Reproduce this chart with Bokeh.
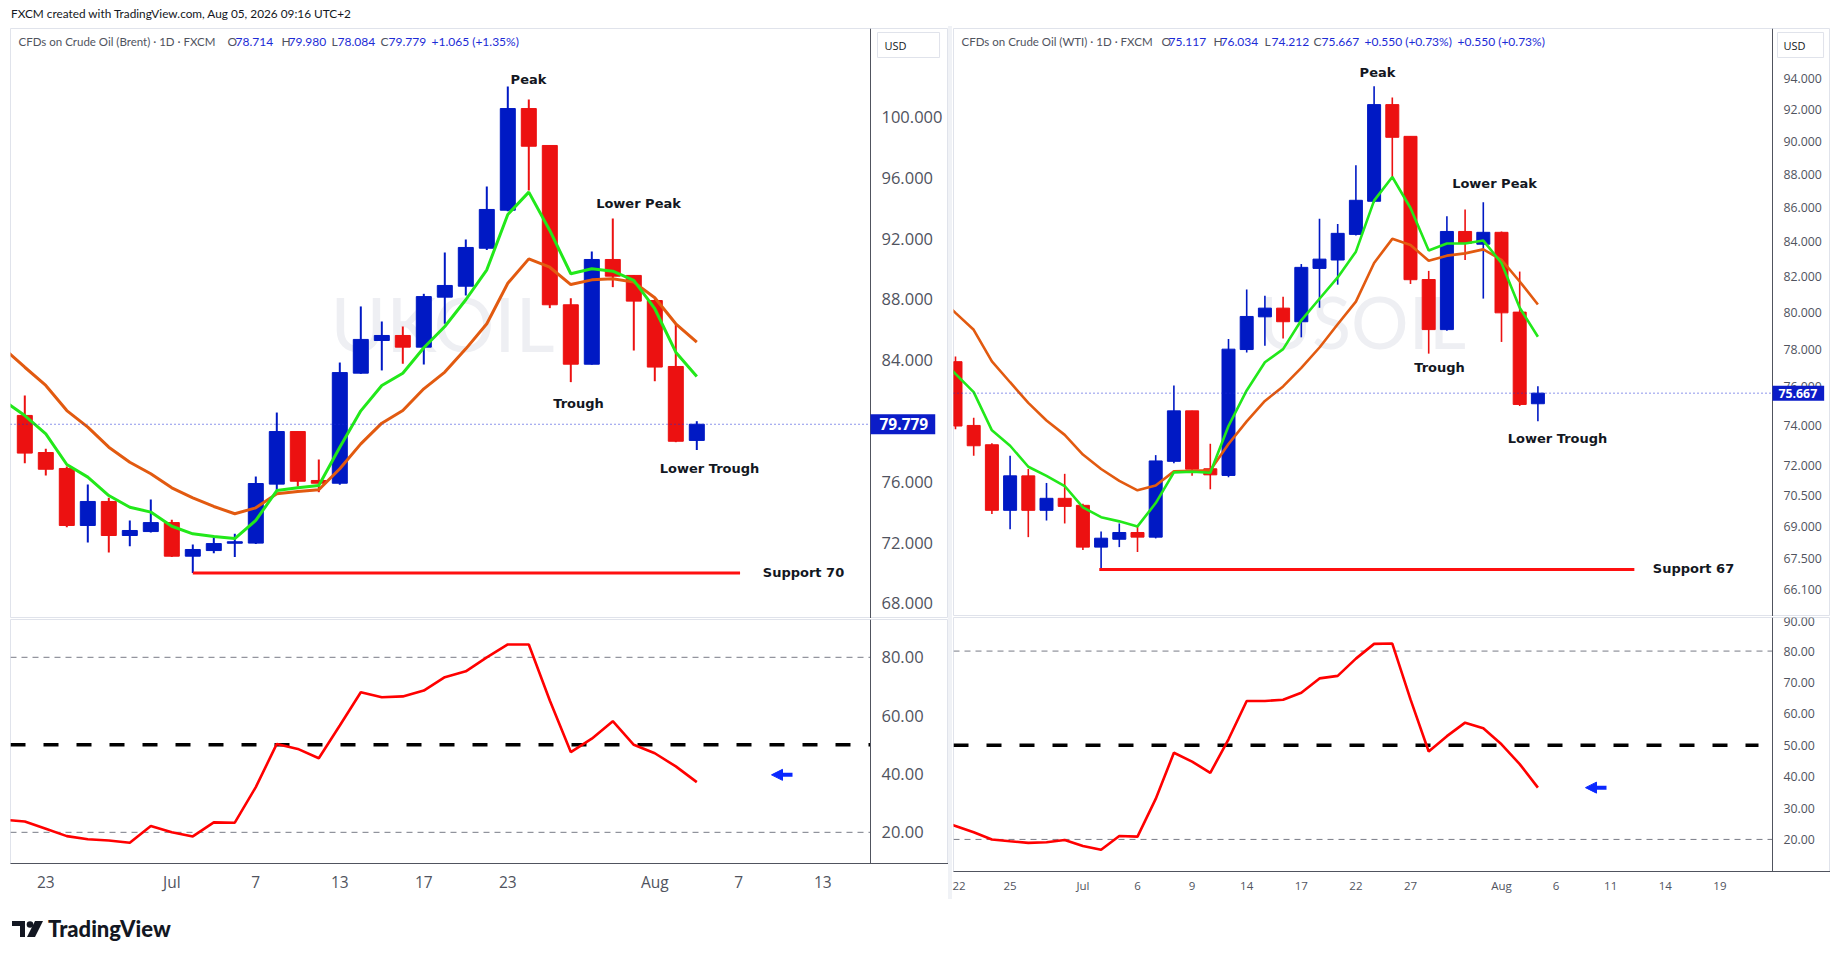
import math
from bokeh.plotting import figure
from bokeh.models import (Range1d, FixedTicker, PrintfTickFormatter, Label,
                          Arrow, NormalHead, ColumnDataSource, Div, Spacer)
from bokeh.layouts import column, row
from bokeh.embed import file_html
from bokeh.resources import INLINE
from bokeh.core.properties import value

# ---------------- data: CFDs on Crude Oil (Brent) ----------------
brent_open = [80.36, 77.92, 76.87, 73.12, 74.70, 72.46, 72.72, 73.31, 71.10, 71.47, 71.95,
              71.96, 75.84, 79.30, 76.08, 75.90, 83.14, 85.29, 85.62, 84.85, 88.14, 88.86,
              91.36, 93.86, 100.55, 98.12, 87.64, 83.73, 90.62, 89.57, 87.92, 83.58, 78.714]
brent_high = [81.67, 78.16, 77.00, 75.82, 74.94, 73.45, 74.83, 73.49, 71.87, 72.44, 72.57,
              76.34, 80.55, 79.30, 77.46, 83.84, 87.53, 86.54, 86.21, 88.36, 91.08, 91.93,
              95.42, 102.00, 101.14, 98.12, 88.07, 91.14, 93.32, 89.60, 88.00, 86.39, 79.980]
brent_low = [77.22, 76.41, 73.00, 72.00, 71.34, 71.76, 72.66, 71.04, 70.00, 71.30, 71.04,
             71.90, 75.42, 75.68, 75.31, 75.80, 83.10, 83.32, 83.76, 83.71, 86.39, 88.25,
             91.25, 93.80, 95.16, 87.42, 82.55, 83.70, 88.80, 84.63, 82.61, 78.60, 78.084]
brent_close = [77.88, 76.82, 73.12, 74.70, 72.46, 72.79, 73.31, 71.10, 71.54, 71.93, 72.05,
               75.88, 79.30, 76.03, 75.90, 83.18, 85.36, 85.62, 84.85, 88.18, 88.91, 91.41,
               93.91, 100.55, 98.07, 87.64, 83.73, 90.62, 89.52, 87.88, 83.54, 78.66, 79.779]
# moving averages and RSI start one bar before the first candle (bar index -1)
brent_ema_fast = [81.32, 80.35, 79.15, 77.13, 76.30, 75.09, 74.32, 74.00, 73.07, 72.57, 72.39,
                  72.26, 73.45, 75.42, 75.60, 75.75, 78.27, 80.66, 82.33, 83.14, 84.81, 86.21,
                  87.97, 89.94, 93.58, 95.05, 92.53, 89.68, 90.01, 89.85, 89.24, 87.38, 84.52, 82.92]
brent_ema_slow = [84.76, 83.53, 82.33, 80.68, 79.59, 78.27, 77.28, 76.52, 75.60, 74.94, 74.37,
                  73.89, 74.28, 75.20, 75.36, 75.47, 76.85, 78.49, 79.85, 80.68, 82.11, 83.21,
                  84.74, 86.39, 89.06, 90.66, 90.11, 88.97, 89.28, 89.35, 89.13, 88.10, 86.39, 85.18]
brent_rsi = [24.3, 23.7, 21.2, 18.7, 17.6, 17.2, 16.4, 22.2, 20.0, 18.6, 23.4, 23.3, 35.5,
             50.3, 48.6, 45.4, 56.6, 68.0, 66.3, 66.6, 68.6, 73.2, 75.2, 80.0, 84.4, 84.4,
             65.2, 47.5, 52.1, 58.1, 50.0, 47.1, 42.6, 37.2]
brent_support = 70.0
brent_support_from, brent_support_to = 8, 34.06
brent_tick_bars = [1, 7, 11, 15, 19, 23, 30, 34, 38]
brent_tick_labels = ["23", "Jul", "7", "13", "17", "23", "Aug", "7", "13"]
brent_price_ticks = [68, 72, 76, 84, 88, 92, 96, 100]
brent_rsi_ticks = [20, 40, 60, 80]

# ---------------- data: CFDs on Crude Oil (WTI) ----------------
wti_open = [77.33, 74.00, 73.02, 69.79, 71.47, 69.79, 70.37, 70.03, 68.04, 68.41, 68.73,
            68.51, 72.19, 74.75, 71.82, 71.49, 77.98, 79.76, 80.24, 79.49, 82.47, 82.95,
            84.43, 86.38, 92.34, 90.34, 81.84, 79.06, 84.60, 83.86, 84.55, 80.02, 75.117]
wti_high = [77.60, 74.40, 73.10, 72.47, 71.81, 71.12, 71.57, 70.11, 68.78, 69.16, 69.02,
            72.50, 76.07, 74.75, 73.07, 78.55, 81.28, 80.93, 80.87, 82.72, 85.35, 85.03,
            88.55, 93.52, 92.79, 90.34, 82.33, 85.50, 85.89, 86.32, 84.60, 82.29, 76.034]
wti_low = [73.80, 72.47, 69.61, 68.89, 68.51, 69.30, 69.16, 67.90, 67.00, 68.04, 67.81,
           68.45, 72.10, 71.47, 70.81, 71.40, 77.82, 78.18, 78.58, 78.64, 80.26, 81.55,
           84.37, 86.30, 87.84, 81.59, 77.76, 79.00, 82.95, 80.77, 78.39, 75.00, 74.212]
wti_close = [73.97, 72.97, 69.79, 71.47, 69.79, 70.37, 69.98, 68.04, 68.46, 68.73, 68.51,
             72.21, 74.75, 71.80, 71.52, 78.00, 79.78, 80.24, 79.49, 82.53, 83.00, 84.49,
             86.44, 92.34, 90.28, 81.83, 79.06, 84.60, 83.92, 84.55, 79.98, 75.08, 75.667]
wti_ema_fast = [77.66, 76.68, 75.72, 73.75, 72.97, 71.92, 71.47, 70.97, 69.93, 69.46, 69.26,
                69.02, 70.14, 71.64, 71.67, 71.62, 73.97, 75.81, 77.30, 78.00, 79.57, 80.76,
                81.96, 83.43, 86.42, 87.84, 85.98, 83.50, 83.90, 83.90, 84.07, 82.78, 80.26, 78.67]
wti_ema_slow = [80.94, 79.98, 79.05, 77.34, 76.24, 75.16, 74.25, 73.52, 72.53, 71.81, 71.22,
                70.76, 71.00, 71.69, 71.72, 71.75, 73.06, 74.21, 75.26, 76.02, 77.00, 78.09,
                79.35, 80.60, 82.78, 84.17, 83.81, 82.91, 83.20, 83.33, 83.56, 82.96, 81.73, 80.44]
wti_rsi = [26.0, 24.3, 22.3, 20.0, 19.4, 18.9, 19.1, 19.8, 17.9, 16.7, 21.1, 20.9, 32.9,
           47.6, 44.8, 41.2, 51.9, 64.1, 64.1, 64.5, 66.7, 71.3, 72.1, 77.6, 82.3, 82.4,
           64.6, 48.0, 52.9, 57.2, 55.4, 50.3, 44.0, 36.5]
wti_support = 67.0
wti_support_from, wti_support_to = 7.9, 37.3
wti_tick_bars = [0, 3, 7, 10, 13, 16, 19, 22, 25, 30, 33, 36, 39, 42]
wti_tick_labels = ["22", "25", "Jul", "6", "9", "14", "17", "22", "27", "Aug", "6", "11", "14", "19"]
wti_price_ticks = [66.1, 67.5, 69, 70.5, 72, 74, 76, 78, 80, 82, 84, 86, 88, 90, 92, 94]
wti_rsi_ticks = [20, 30, 40, 50, 60, 70, 80, 90]

rsi_upper, rsi_mid, rsi_lower = 80, 50, 20

# ---------------- styles ----------------
UP = "#0019c4"
DOWN = "#ec1111"
GREEN = "#22e81a"
ORANGE = "#e25a10"
TXT = "#131722"
AXC = "#50535e"
VAL = "#1c2bd6"
GRAYLINE = "#e0e3eb"
ARROW = "#0a28ff"


# pixel -> data helpers for annotation placement (layout only)
def lx(X):
    return (X - 24.3) / 21.0


def ly(Y):
    return 100.0 - (Y - 116.4) / 15.2


def rx(X):
    return (X - 955.0) / 18.2


def ry(Y):
    return 94.0 * math.exp((78.3 - Y) / 1449.0)


def candle_source(o, h, l, c):
    return ColumnDataSource(dict(
        i=list(range(len(o))), o=o, h=h, l=l, c=c,
        top=[max(a, b) for a, b in zip(o, c)],
        bottom=[min(a, b) for a, b in zip(o, c)],
        color=[UP if b >= a else DOWN for a, b in zip(o, c)],
    ))


def style_yaxis(ax, ticks, fmt, size, loc, standoff=11):
    ax.ticker = FixedTicker(ticks=ticks)
    ax.formatter = PrintfTickFormatter(format=fmt)
    ax.fixed_location = loc
    ax.axis_line_color = AXC
    ax.major_tick_line_color = None
    ax.minor_tick_line_color = None
    ax.major_tick_out = 0
    ax.major_tick_in = 0
    ax.major_label_text_color = AXC
    ax.major_label_text_font = "Open Sans"
    ax.major_label_text_font_size = size
    ax.major_label_standoff = standoff


def base_fig(width, height, xr, yr, log, bl, bt, bb, xaxis):
    p = figure(width=width, height=height, x_range=xr, y_range=yr, title=None,
               y_axis_type="log" if log else "linear", y_axis_location="right",
               x_axis_location="below" if xaxis else None,
               output_backend="svg", toolbar_location=None,
               min_border_left=bl, min_border_right=0, min_border_top=bt, min_border_bottom=bb)
    p.grid.visible = False
    p.outline_line_color = GRAYLINE
    p.background_fill_color = "white"
    p.border_fill_color = "white"
    return p


def panel(o, h, l, c, ema_f, ema_s, rsi, support, s_from, s_to, tick_bars, tick_labels,
          price_ticks, rsi_ticks, *, width, main_h, rsi_h, bl, rsi_bb, frame_X, axis_X,
          mid_end_X, yr, log, rsi_yr, ylab, xlab, wick_w, ema_w, watermark, wm_XY, wm_size,
          header, header_Y, usd_XY, usd_pad, close_pad, close_size, notes, fx, fy, arrow,
          xstandoff):
    xr = (fx(frame_X[0]), fx(frame_X[1]))
    axis_x = fx(axis_X)
    xrange = Range1d(*xr)
    p = base_fig(width, main_h, xrange, Range1d(*yr), log, bl, 2, 0, False)
    style_yaxis(p.yaxis[0], price_ticks, "%.3f", ylab, axis_x)

    # watermark (behind candles)
    p.text(x=[fx(wm_XY[0])], y=[fy(wm_XY[1])], text=[watermark], text_font=value("Lato"),
           text_font_size=wm_size, text_color="#eeeff3", text_align="center",
           text_baseline="middle")

    src = candle_source(o, h, l, c)
    p.segment(x0="i", y0="l", x1="i", y1="h", line_color="color", line_width=wick_w, source=src)
    p.vbar(x="i", width=0.714, top="top", bottom="bottom", fill_color="color",
           line_color="color", line_width=1, source=src)

    ema_x = list(range(-1, len(o)))
    p.line(ema_x, ema_s, line_color=ORANGE, line_width=ema_w)
    p.line(ema_x, ema_f, line_color=GREEN, line_width=ema_w)

    p.line([s_from, s_to], [support, support], line_color="#ff1010", line_width=3)

    last = c[-1]
    p.segment(x0=[xr[0]], y0=[last], x1=[axis_x], y1=[last], line_color=VAL,
              line_dash="1 3", line_width=1)

    for text, X, Y in notes:
        p.add_layout(Label(x=fx(X), y=fy(Y), text=text, text_font="DejaVu Sans",
                           text_font_style="bold", text_font_size="13px", text_color=TXT,
                           text_align="center", text_baseline="middle"))

    for X, text, col, size in header:
        p.add_layout(Label(x=fx(X), y=fy(header_Y), text=text, text_font="Lato",
                           text_font_size=size, text_color=col, text_baseline="middle"))

    p.add_layout(Label(x=fx(usd_XY[0]), y=fy(usd_XY[1]), text="USD", text_font="Open Sans",
                       text_font_size="11px", text_color=TXT, text_baseline="middle",
                       background_fill_color="white", border_line_color=GRAYLINE,
                       padding=usd_pad))
    p.add_layout(Label(x=axis_x, y=last, text=f"{last:.3f}", text_font="Open Sans",
                       text_font_size=close_size, text_font_style="bold", text_color="white",
                       text_baseline="middle", background_fill_color="#0b1cc8",
                       padding=close_pad))

    r = base_fig(width, rsi_h, xrange, Range1d(*rsi_yr), False, bl, 1, rsi_bb, True)
    style_yaxis(r.yaxis[0], rsi_ticks, "%.2f", ylab, axis_x)
    xa = r.xaxis[0]
    xa.ticker = FixedTicker(ticks=tick_bars)
    xa.major_label_overrides = {b: t for b, t in zip(tick_bars, tick_labels)}
    xa.axis_line_color = AXC
    xa.major_tick_line_color = None
    xa.minor_tick_line_color = None
    xa.major_tick_out = 0
    xa.major_tick_in = 0
    xa.major_label_standoff = xstandoff
    xa.major_label_text_color = AXC
    xa.major_label_text_font = "Open Sans"
    xa.major_label_text_font_size = xlab

    r.segment(x0=[xr[0], xr[0]], y0=[rsi_upper, rsi_lower], x1=[axis_x, axis_x],
              y1=[rsi_upper, rsi_lower], line_color="#787b86", line_dash="6 5", line_width=1)
    r.segment(x0=[xr[0]], y0=[rsi_mid], x1=[fx(mid_end_X)], y1=[rsi_mid], line_color="black",
              line_dash="15 18", line_width=3.5)
    r.line(ema_x, rsi, line_color="#ff0000", line_width=2.6)
    (x0, x1, ya) = arrow
    r.add_layout(Arrow(end=NormalHead(size=11, fill_color=ARROW, line_color=ARROW),
                       x_start=fx(x0), y_start=ya, x_end=fx(x1), y_end=ya,
                       line_color=ARROW, line_width=4))
    return column(p, r, spacing=0)


left = panel(
    brent_open, brent_high, brent_low, brent_close, brent_ema_fast, brent_ema_slow, brent_rsi,
    brent_support, brent_support_from, brent_support_to, brent_tick_bars, brent_tick_labels,
    brent_price_ticks, brent_rsi_ticks,
    width=940, main_h=592, rsi_h=281, bl=2, rsi_bb=36,
    frame_X=(10, 948), axis_X=870, mid_end_X=870,
    yr=(ly(618), ly(28)), log=False, rsi_yr=(9.31, 92.96),
    ylab="16.5px", xlab="15.5px", wick_w=2, ema_w=3,
    watermark="UKOIL", wm_XY=(442, 322), wm_size="76px",
    header=[(18, "CFDs on Crude Oil (Brent) · 1D · FXCM", AXC, "11.5px"),
            (227, "O", AXC, "12px"), (235, "78.714", VAL, "12px"), (281, "H", AXC, "12px"),
            (288, "79.980", VAL, "12px"), (331, "L", AXC, "12px"), (337, "78.084", VAL, "12px"),
            (380, "C", AXC, "12px"), (388, "79.779", VAL, "12px"),
            (431, "+1.065 (+1.35%)", VAL, "12px")],
    header_Y=41, usd_XY=(877, 44.5), usd_pad=(7, 33, 5, 5),
    close_pad=(9, 7, 4, 4), close_size="15.5px",
    notes=[("Peak", 528, 79), ("Lower Peak", 638, 203), ("Trough", 578, 403),
           ("Lower Trough", 709, 468), ("Support 70", 803, 572)],
    fx=lx, fy=ly, arrow=(792, 771, 39.7), xstandoff=7)

right = panel(
    wti_open, wti_high, wti_low, wti_close, wti_ema_fast, wti_ema_slow, wti_rsi,
    wti_support, wti_support_from, wti_support_to, wti_tick_bars, wti_tick_labels,
    wti_price_ticks, wti_rsi_ticks,
    width=878, main_h=590, rsi_h=283, bl=1, rsi_bb=28,
    frame_X=(953, 1830), axis_X=1772, mid_end_X=1758,
    yr=(ry(616), ry(28)), log=True, rsi_yr=(9.78, 90.7),
    ylab="12.3px", xlab="11.5px", wick_w=1.6, ema_w=2.6,
    watermark="USOIL", wm_XY=(1362, 320), wm_size="72px",
    header=[(961, "CFDs on Crude Oil (WTI) · 1D · FXCM", AXC, "11.5px"),
            (1161, "O", AXC, "12px"), (1168, "75.117", VAL, "12px"), (1213, "H", AXC, "12px"),
            (1220, "76.034", VAL, "12px"), (1264, "L", AXC, "12px"),
            (1271, "74.212", VAL, "12px"), (1313, "C", AXC, "12px"),
            (1321, "75.667", VAL, "12px"), (1364, "+0.550 (+0.73%)", VAL, "12px"),
            (1457, "+0.550 (+0.73%)", VAL, "12px")],
    header_Y=41, usd_XY=(1777, 44.5), usd_pad=(6, 18, 5, 5),
    close_pad=(6, 7, 3, 3), close_size="12.3px",
    notes=[("Peak", 1377, 72), ("Lower Peak", 1494, 183), ("Trough", 1439, 367),
           ("Lower Trough", 1557, 438), ("Support 67", 1693, 568)],
    fx=rx, fy=ry, arrow=(1606, 1585, 36.5), xstandoff=6)

top = Div(text="FXCM created with TradingView.com, Aug 05, 2026 09:16 UTC+2",
          width=1830, height=26, margin=0,
          styles={"font-family": "Lato", "font-size": "11.8px", "color": TXT,
                  "line-height": "14px", "padding-left": "11px", "padding-top": "7px",
                  "box-sizing": "border-box"})

logo_svg = ('<svg width="34" height="22" viewBox="0 0 34 22" style="margin-right:3px">'
            '<path d="M1 3h13v16h-5V8H1z" fill="#131722"/>'
            '<circle cx="19" cy="6.5" r="3.3" fill="#131722"/>'
            '<path d="M24 3h8l-8 16h-8z" fill="#131722"/></svg>')
bottom = Div(text=('<div style="display:flex;align-items:center;font-family:Lato;'
                   'font-weight:900;font-size:22px;color:#131722;">'
                   + logo_svg + 'TradingView</div>'),
             width=400, height=50, margin=0,
             styles={"padding-top": "14px", "padding-left": "11px", "box-sizing": "border-box"})

lead = Spacer(width=8, height=873, margin=0)
gap = Spacer(width=4, height=873, margin=0, styles={"background-color": "#f0f2f6"})
layout = column(top, row(lead, left, gap, right, spacing=0), bottom, spacing=0)

open("out.html", "w").write(file_html(layout, INLINE))
